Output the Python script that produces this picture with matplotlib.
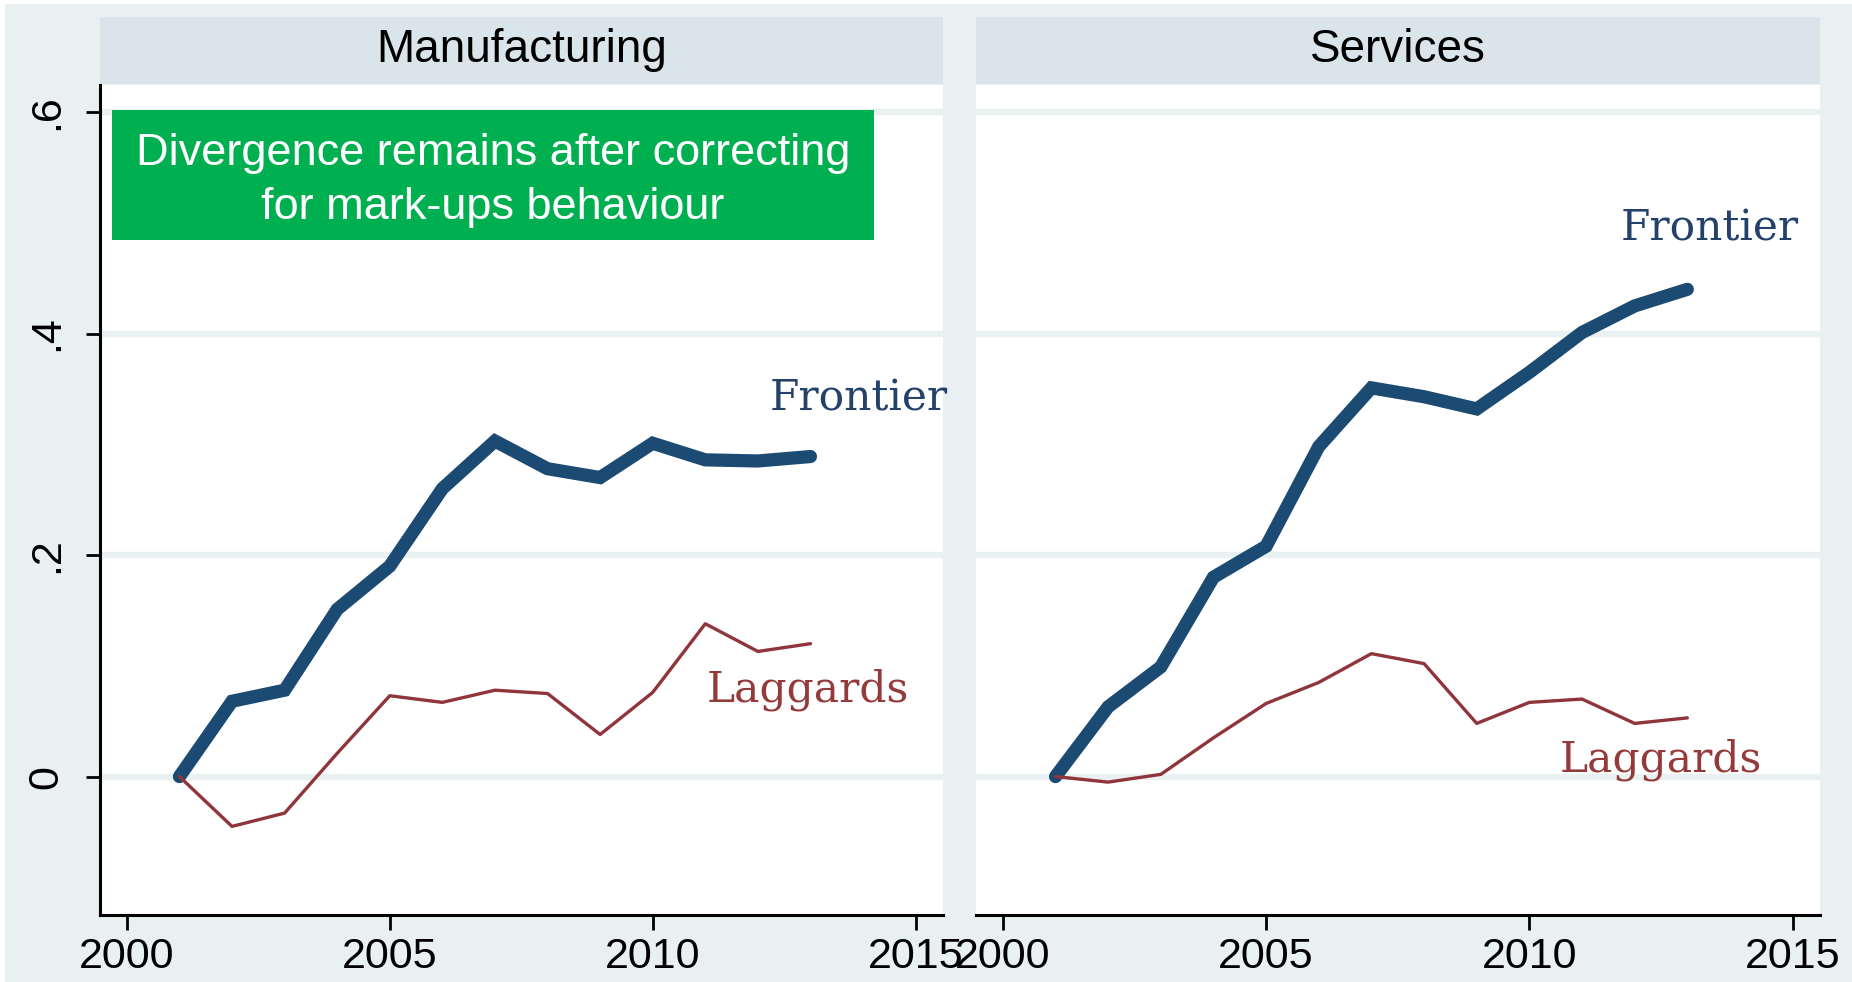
import matplotlib
matplotlib.use("Agg")
import matplotlib.pyplot as plt
from matplotlib.patches import Rectangle

# ---- data -------------------------------------------------------------
years = list(range(2001, 2014))

manuf_frontier = [0.0, 0.068, 0.078, 0.151, 0.190, 0.260, 0.303,
                  0.278, 0.270, 0.301, 0.286, 0.285, 0.289]
manuf_laggards = [0.0, -0.045, -0.033, 0.021, 0.073, 0.067, 0.078,
                  0.075, 0.038, 0.076, 0.138, 0.113, 0.120]

serv_frontier = [0.0, 0.063, 0.099, 0.180, 0.208, 0.298, 0.351,
                 0.343, 0.332, 0.365, 0.401, 0.425, 0.440]
serv_laggards = [0.0, -0.005, 0.002, 0.035, 0.066, 0.085, 0.111,
                 0.102, 0.048, 0.067, 0.070, 0.048, 0.053]

panel_titles = ["Manufacturing", "Services"]
x_ticks = [2000, 2005, 2010, 2015]
y_ticks = [0.0, 0.2, 0.4, 0.6]
y_tick_labels = ["0", ".2", ".4", ".6"]
note_text = "Divergence remains after correcting\nfor mark-ups behaviour"

# ---- styling ----------------------------------------------------------
W, H = 1852, 982
OUTER_BG = "#E8F0F2"
HEADER_BG = "#D9E5EA"
GRID = "#EAF1F3"
FRONTIER_C = "#1B4A72"
LAGGARD_C = "#90353B"
FRONTIER_TXT = "#23416A"
LAGGARD_TXT = "#953A3A"
SANS = "Liberation Sans"
SERIF = "DejaVu Serif"


def px_rect(x0, y0, x1, y1):
    """Convert a pixel box (top-left origin) to figure fractions."""
    return [x0 / W, 1 - y1 / H, (x1 - x0) / W, (y1 - y0) / H]


fig = plt.figure(figsize=(W / 100, H / 100), dpi=100)
fig.patch.set_facecolor(OUTER_BG)
# thin white margin on the top and left edges
fig.add_artist(Rectangle((0, 1 - 4 / H), 1, 4 / H, transform=fig.transFigure,
                         facecolor="white", edgecolor="none"))
fig.add_artist(Rectangle((0, 0), 5 / W, 1, transform=fig.transFigure,
                         facecolor="white", edgecolor="none"))

panel_boxes = [(100, 943), (976, 1820)]
series = [(manuf_frontier, manuf_laggards), (serv_frontier, serv_laggards)]

axes = []
for i, ((x0, x1), title, (front, lag)) in enumerate(
        zip(panel_boxes, panel_titles, series)):
    # header strip
    hax = fig.add_axes(px_rect(x0, 17, x1, 84))
    hax.set_facecolor(HEADER_BG)
    hax.set_xticks([])
    hax.set_yticks([])
    for s in hax.spines.values():
        s.set_visible(False)
    hax.text(0.5, 0.5, title, ha="center", va="center", fontsize=33,
             family=SANS, color="black", transform=hax.transAxes)

    ax = fig.add_axes(px_rect(x0, 85, x1, 915))
    ax.set_facecolor("white")
    ax.set_xlim(1999.49, 2015.52)
    ax.set_ylim(-0.125, 0.6245)

    ax.plot(years, front, color=FRONTIER_C, lw=9.5, solid_capstyle="round",
            solid_joinstyle="miter", zorder=3)
    ax.plot(years, lag, color=LAGGARD_C, lw=2.4, solid_capstyle="round",
            zorder=4)

    ax.set_axisbelow(True)
    ax.yaxis.grid(True, color=GRID, linewidth=4.6)
    ax.set_yticks(y_ticks)
    ax.set_xticks(x_ticks)
    ax.set_xticklabels([str(t) for t in x_ticks], family=SANS, fontsize=31)
    ax.tick_params(axis="x", length=11, width=2, pad=5, colors="black")

    for side in ("top", "right"):
        ax.spines[side].set_visible(False)
    ax.spines["bottom"].set_linewidth(2.2)
    if i == 0:
        ax.spines["left"].set_linewidth(2.2)
        ax.set_yticklabels(y_tick_labels, rotation=90, va="center",
                           family=SANS, fontsize=31)
        ax.tick_params(axis="y", length=10, width=2, pad=14, colors="black")
    else:
        ax.spines["left"].set_visible(False)
        ax.tick_params(axis="y", length=0, labelleft=False)
    axes.append(ax)

ax_m, ax_s = axes

# series labels
label_kw = dict(ha="center", va="baseline", fontsize=30.5, family=SERIF,
                clip_on=False, zorder=5)
ax_m.text(2013.91, 0.331, "Frontier", color=FRONTIER_TXT, **label_kw)
ax_m.text(2012.94, 0.0677, "Laggards", color=LAGGARD_TXT, **label_kw)
ax_s.text(2013.42, 0.484, "Frontier", color=FRONTIER_TXT, **label_kw)
ax_s.text(2012.49, 0.0045, "Laggards", color=LAGGARD_TXT, **label_kw)

# green call-out box in the manufacturing panel
ax_m.add_patch(Rectangle((0.0142, 0.813), 0.9039, 0.157,
                         transform=ax_m.transAxes, facecolor="#00B050",
                         edgecolor="none", zorder=6, clip_on=False))
ax_m.text(0.4662, 0.8850, note_text, transform=ax_m.transAxes,
          ha="center", va="center", multialignment="center",
          fontsize=32.5, family=SANS, color="white", linespacing=1.38,
          zorder=7)

fig.savefig("out.png", dpi=100, facecolor=fig.get_facecolor())
